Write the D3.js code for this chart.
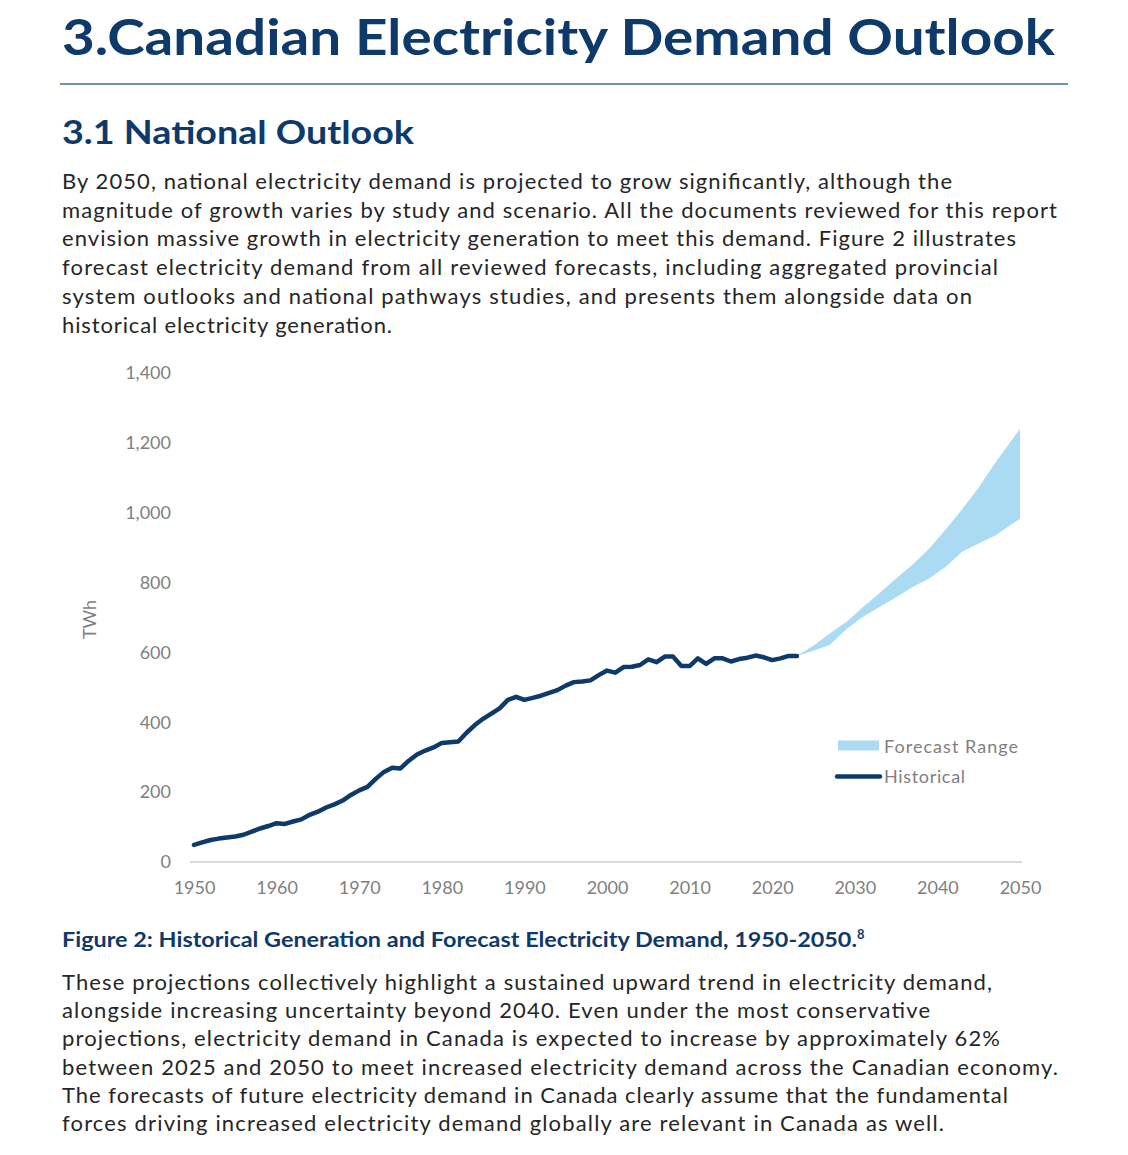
<!DOCTYPE html>
<html>
<head>
<meta charset="utf-8">
<script src="https://cdn.jsdelivr.net/npm/d3@7"></script>
<style>
  html, body { margin: 0; padding: 0; background: #fff; }
  svg { display: block; }
</style>
</head>
<body>
<svg id="page" width="1128" height="1155"></svg>
<script>
// ---------- DATA ----------
const histYears = d3.range(1950, 2024);
const histValues = [
  49, 56, 63, 67, 70, 73, 78, 87, 96, 103,
  111, 109, 116, 122, 135, 144, 156, 165, 176, 192,
  205, 215, 238, 258, 270, 268, 290, 308, 319, 328,
  341, 343, 345, 370, 392, 410, 425, 440, 464, 473,
  464, 470, 476, 484, 492, 505, 515, 517, 520, 535,
  548, 542, 558, 559, 564, 580, 572, 588, 588, 561,
  561, 583, 567, 583, 583, 574, 581, 585, 591, 586,
  578, 583, 590, 590
];
const forecastYears = [2023, 2025, 2027, 2029, 2031, 2033, 2035, 2037, 2039, 2041, 2043, 2045, 2047, 2050];
const forecastUpper = [590, 620, 655, 688, 730, 770, 812, 852, 897, 952, 1010, 1072, 1143, 1240];
const forecastLower = [590, 605, 622, 667, 702, 730, 758, 787, 812, 845, 888, 912, 935, 983];
const yTicks = [0, 200, 400, 600, 800, 1000, 1200, 1400];
const xTicks = [1950, 1960, 1970, 1980, 1990, 2000, 2010, 2020, 2030, 2040, 2050];
const legendLabels = ["Forecast Range", "Historical"];

const titleText = "3.Canadian Electricity Demand Outlook";
const subtitleText = "3.1 National Outlook";
const para1 = [
  "By 2050, national electricity demand is projected to grow significantly, although the",
  "magnitude of growth varies by study and scenario. All the documents reviewed for this report",
  "envision massive growth in electricity generation to meet this demand. Figure 2 illustrates",
  "forecast electricity demand from all reviewed forecasts, including aggregated provincial",
  "system outlooks and national pathways studies, and presents them alongside data on",
  "historical electricity generation."
];
const para1Ends = [952, 1057, 1016, 998, 972, 392];
const captionText = "Figure 2: Historical Generation and Forecast Electricity Demand, 1950-2050.";
const captionNote = "8";
const para2 = [
  "These projections collectively highlight a sustained upward trend in electricity demand,",
  "alongside increasing uncertainty beyond 2040. Even under the most conservative",
  "projections, electricity demand in Canada is expected to increase by approximately 62%",
  "between 2025 and 2050 to meet increased electricity demand across the Canadian economy.",
  "The forecasts of future electricity demand in Canada clearly assume that the fundamental",
  "forces driving increased electricity demand globally are relevant in Canada as well."
];
const para2Ends = [992, 930, 1000, 1058, 1008, 944];

// ---------- STYLE ----------
const NAVY = "#0d3a6b";
const LIGHT = "#abdbf3";
const GRAY = "#7f7f7f";
const TEXT = "#262626";
const bodyFont = "Lato, 'Open Sans', sans-serif";

const svg = d3.select("#page");

// Title
svg.append("text")
  .attr("x", 62).attr("y", 55)
  .attr("font-family", bodyFont).attr("font-weight", 700)
  .attr("font-size", 50).attr("fill", NAVY)
  .attr("textLength", 993).attr("lengthAdjust", "spacingAndGlyphs")
  .text(titleText);

svg.append("line")
  .attr("x1", 60).attr("x2", 1068).attr("y1", 84).attr("y2", 84)
  .attr("stroke", "#6f8fb3").attr("stroke-width", 2);

svg.append("text")
  .attr("x", 62).attr("y", 144)
  .attr("font-family", bodyFont).attr("font-weight", 700)
  .attr("font-size", 32).attr("fill", NAVY)
  .attr("textLength", 352).attr("lengthAdjust", "spacingAndGlyphs")
  .text(subtitleText);

function paragraph(lines, ends, y0, step) {
  lines.forEach((t, i) => {
    svg.append("text")
      .attr("x", 62).attr("y", y0 + i * step)
      .attr("font-family", bodyFont).attr("font-size", 22)
      .attr("fill", TEXT)
      .attr("textLength", ends[i] - 62).attr("lengthAdjust", "spacing")
      .text(t);
  });
}
paragraph(para1, para1Ends, 189, 28.7);

// ---------- CHART ----------
const x = d3.scaleLinear().domain([1950, 2050]).range([194, 1020]);
const y = d3.scaleLinear().domain([0, 1400]).range([862, 373]);

// x axis baseline
svg.append("line")
  .attr("x1", 190).attr("x2", 1022)
  .attr("y1", y(0)).attr("y2", y(0))
  .attr("stroke", "#d9d9d9").attr("stroke-width", 2);

const yAxis = svg.append("g")
  .attr("transform", "translate(190,0)")
  .call(d3.axisLeft(y).tickValues(yTicks).tickSize(0).tickPadding(19).tickFormat(d3.format(",")));
yAxis.select(".domain").remove();
yAxis.selectAll("text").attr("font-family", bodyFont).attr("font-size", 18).attr("fill", GRAY);

const xAxis = svg.append("g")
  .attr("transform", `translate(0,${y(0)})`)
  .call(d3.axisBottom(x).tickValues(xTicks).tickSize(0).tickPadding(19).tickFormat(d3.format("d")));
xAxis.select(".domain").remove();
xAxis.selectAll("text").attr("font-family", bodyFont).attr("font-size", 18).attr("fill", GRAY);

svg.append("text")
  .attr("transform", `translate(96,${(y(600) + y(800)) / 2 + 2}) rotate(-90)`)
  .attr("text-anchor", "middle")
  .attr("font-family", bodyFont).attr("font-size", 18).attr("fill", GRAY)
  .text("TWh");

// Forecast area
const fc = forecastYears.map((yr, i) => ({ yr, lo: forecastLower[i], hi: forecastUpper[i] }));
svg.append("path")
  .datum(fc)
  .attr("fill", LIGHT)
  .attr("d", d3.area().x(d => x(d.yr)).y0(d => y(d.lo)).y1(d => y(d.hi)));

// Historical line
const hist = histYears.map((yr, i) => ({ yr, v: histValues[i] }));
svg.append("path")
  .datum(hist)
  .attr("fill", "none")
  .attr("stroke", NAVY).attr("stroke-width", 4.5)
  .attr("stroke-linejoin", "round").attr("stroke-linecap", "round")
  .attr("d", d3.line().x(d => x(d.yr)).y(d => y(d.v)));

// Legend
const lg = svg.append("g");
lg.append("rect").attr("x", 838).attr("y", 740.5).attr("width", 41).attr("height", 10).attr("fill", LIGHT);
lg.append("text").attr("x", 884).attr("y", 752.5)
  .attr("font-family", bodyFont).attr("font-size", 18).attr("fill", GRAY)
  .attr("textLength", 134).attr("lengthAdjust", "spacing")
  .text(legendLabels[0]);
lg.append("line").attr("x1", 837).attr("x2", 880).attr("y1", 776.5).attr("y2", 776.5)
  .attr("stroke", NAVY).attr("stroke-width", 4.5).attr("stroke-linecap", "round");
lg.append("text").attr("x", 884).attr("y", 783)
  .attr("font-family", bodyFont).attr("font-size", 18).attr("fill", GRAY)
  .attr("textLength", 81).attr("lengthAdjust", "spacing")
  .text(legendLabels[1]);

// Caption
const cap = svg.append("text")
  .attr("x", 62).attr("y", 947)
  .attr("font-family", bodyFont).attr("font-weight", 700)
  .attr("font-size", 20).attr("fill", NAVY);
cap.append("tspan").attr("textLength", 795).attr("lengthAdjust", "spacingAndGlyphs").text(captionText);
cap.append("tspan").attr("font-size", 13).attr("dy", -8).text(captionNote);

paragraph(para2, para2Ends, 990, 28.2);
</script>
</body>
</html>
